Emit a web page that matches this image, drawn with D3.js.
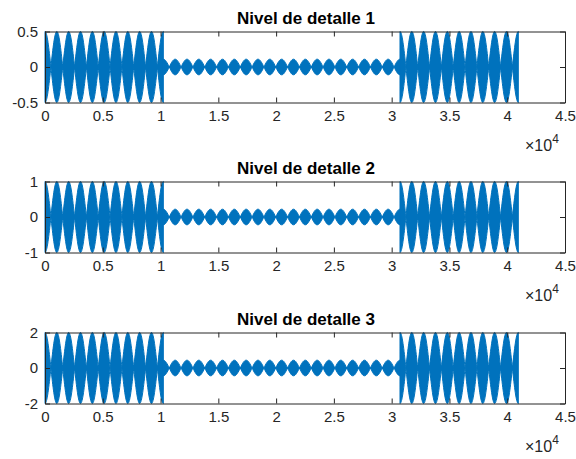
<!DOCTYPE html>
<html>
<head>
<meta charset="utf-8">
<script src="https://cdn.jsdelivr.net/npm/d3@7"></script>
<style>
  html, body { margin: 0; padding: 0; background: #fff; }
  svg { display: block; font-family: "Liberation Sans", Arial, Helvetica, sans-serif; }
</style>
</head>
<body>
<svg id="chart" width="576" height="459"></svg>
<script>
// Panel titles, one per decomposition level
const titles = ["Nivel de detalle 1", "Nivel de detalle 2", "Nivel de detalle 3"];
// Symmetric y limits and y ticks of each panel
const yLimits = [0.5, 1, 2];
const yTicks = [[-0.5, 0, 0.5], [-1, 0, 1], [-2, 0, 2]];
const yTickLabels = [["-0.5", "0", "0.5"], ["-1", "0", "1"], ["-2", "0", "2"]];
// x axis (samples), labelled in units of 10^4
const xMax = 45000;
const xTicks = [0, 5000, 10000, 15000, 20000, 25000, 30000, 35000, 40000, 45000];
const xTickLabels = ["0", "0.5", "1", "1.5", "2", "2.5", "3", "3.5", "4", "4.5"];
// Signal segments (sample ranges) and the envelope peak of each segment per level
const segStart = [0, 10240, 30720];
const segEnd = [10240, 30720, 40960];
const segPeak = [
  [0.5, 0.11, 0.5],
  [1, 0.22, 1],
  [2, 0.44, 2]
];
// Length of one beat (envelope bead) in samples
const beatLength = 1024;

const blue = "#0072BD";
const axisColor = "#262626";
const fontFamily = "'Liberation Sans', Arial, Helvetica, sans-serif";

const svg = d3.select("#chart");
const left = 45, right = 565;
const panelTop = [31.5, 181.5, 332.5];
const panelH = 71;

const x = d3.scaleLinear().domain([0, xMax]).range([left, right]);

// Beat envelope outline: quarter waves joined peak -> node -> peak, mirrored below zero.
function envelopePath(y, s, e, amp) {
  const p = d3.path();
  const n = Math.round((e - s) / beatLength);
  const y0 = y(0);
  const quarter = (ctx, xa, ya, xb, yb, toNode) => {
    const h = xb - xa;
    if (toNode) {
      ctx.bezierCurveTo(xa + 0.36 * h, ya, xb - 0.33 * h, yb + 0.52 * (ya - yb), xb, yb);
    } else {
      ctx.bezierCurveTo(xa + 0.33 * h, ya + 0.52 * (yb - ya), xb - 0.36 * h, yb, xb, yb);
    }
  };
  for (const sign of [1, -1]) {
    const yA = y(sign * amp);
    const xs = [];
    for (let k = 0; k <= n; k++) xs.push(s + k * beatLength);
    const seq = sign === 1 ? xs : xs.slice().reverse();
    if (sign === 1) p.moveTo(x(seq[0]), yA); else p.lineTo(x(seq[0]), yA);
    for (let i = 0; i < seq.length - 1; i++) {
      const a = x(seq[i]), b = x(seq[i + 1]);
      const m = (a + b) / 2;
      quarter(p, a, yA, m, y0, true);
      quarter(p, m, y0, b, yA, false);
    }
  }
  p.closePath();
  return p.toString();
}

titles.forEach((title, i) => {
  const top = panelTop[i];
  const bottom = top + panelH;
  const L = yLimits[i];
  const y = d3.scaleLinear().domain([-L, L]).range([bottom, top]);
  const g = svg.append("g");

  // signal envelope
  g.selectAll("path.sig")
    .data(segStart.map((s, k) => ({ s, e: segEnd[k], a: segPeak[i][k] })))
    .join("path")
    .attr("class", "sig")
    .attr("d", d => envelopePath(y, d.s, d.e, d.a))
    .attr("fill", blue)
    .attr("stroke", blue)
    .attr("stroke-width", 1)
    .attr("stroke-linejoin", "round");

  // axes box with inward ticks
  const styleAxis = sel => {
    sel.selectAll(".domain").attr("stroke", axisColor).attr("stroke-width", 1);
    sel.selectAll(".tick line").attr("stroke", axisColor).attr("stroke-width", 1);
    sel.selectAll(".tick text").attr("fill", axisColor).attr("font-size", 15)
      .attr("font-family", fontFamily);
  };
  g.append("g").attr("transform", `translate(0,${bottom})`)
    .call(d3.axisBottom(x).tickValues(xTicks).tickFormat((d, j) => xTickLabels[j])
      .tickSizeInner(-5).tickSizeOuter(0).tickPadding(8))
    .call(styleAxis);
  g.append("g").attr("transform", `translate(0,${top})`)
    .call(d3.axisTop(x).tickValues(xTicks).tickFormat("")
      .tickSizeInner(-5).tickSizeOuter(0))
    .call(styleAxis);
  g.append("g").attr("transform", `translate(${left},0)`)
    .call(d3.axisLeft(y).tickValues(yTicks[i]).tickFormat((d, j) => yTickLabels[i][j])
      .tickSizeInner(-5).tickSizeOuter(0).tickPadding(7))
    .call(styleAxis);
  g.append("g").attr("transform", `translate(${right},0)`)
    .call(d3.axisRight(y).tickValues(yTicks[i]).tickFormat("")
      .tickSizeInner(-5).tickSizeOuter(0))
    .call(styleAxis);

  // title
  g.append("text")
    .attr("x", (left + right) / 2 + 1)
    .attr("y", top - 7.5)
    .attr("text-anchor", "middle")
    .attr("font-family", fontFamily)
    .attr("font-size", 17)
    .attr("font-weight", "bold")
    .attr("fill", "#000")
    .text(title);

  // exponent label
  const ex = g.append("text")
    .attr("x", 525)
    .attr("y", bottom + 48)
    .attr("font-family", fontFamily)
    .attr("font-size", 16)
    .attr("fill", axisColor);
  ex.append("tspan").text("\u00d710");
  ex.append("tspan").attr("dy", -8).attr("font-size", 12).text("4");
});
</script>
</body>
</html>
